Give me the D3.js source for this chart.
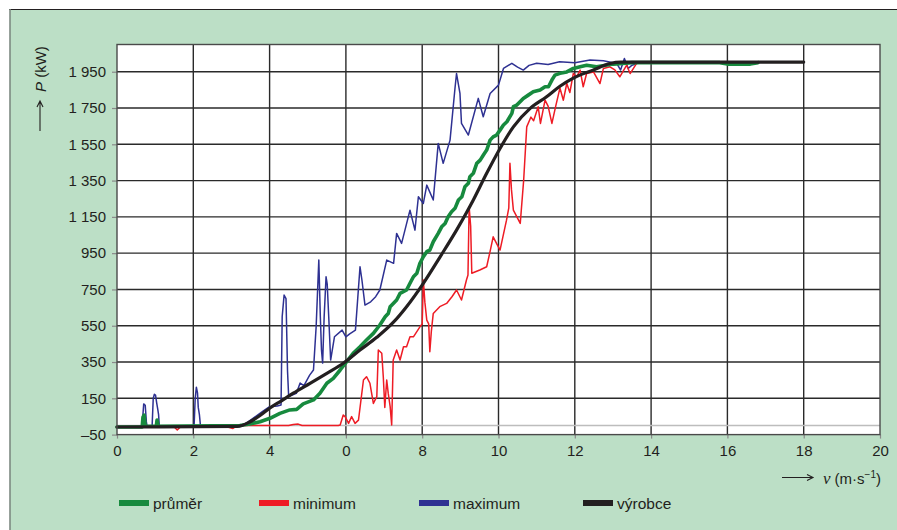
<!DOCTYPE html>
<html>
<head>
<meta charset="utf-8">
<script src="https://cdn.jsdelivr.net/npm/d3@7"></script>
<style>
  html, body { margin: 0; padding: 0; background: #ffffff; }
  svg { display: block; }
  text { font-family: "Liberation Sans", Arial, Helvetica, sans-serif; fill: #231f20; }
</style>
</head>
<body>
<svg id="chart" width="897" height="530"></svg>
<script>
// Wind speed (m/s) against power output (kW) of a 2 MW turbine

// x tick values and their printed labels
const xTicks = [0, 2, 4, 6, 8, 10, 12, 14, 16, 18, 20];
const xTickLabels = ["0", "2", "4", "0", "8", "10", "12", "14", "16", "18", "20"];

// y tick values and their printed labels
const yTicks = [-50, 150, 350, 550, 750, 950, 1150, 1350, 1550, 1750, 1950];
const yTickLabels = ["\u201350", "150", "350", "550", "750", "950", "1 150", "1 350", "1 550", "1 750", "1 950"];

// series names (legend order)
const seriesNames = ["průměr", "minimum", "maximum", "výrobce"];

// maximum measured power [speed, power]
const maxSeries = [
  [0,-8],[0.66,-8],[0.68,60],[0.7,119],[0.74,112],[0.77,20],[0.79,-6],
  [0.92,-6],[0.95,150],[0.98,172],[1.01,168],[1.04,125],[1.07,88],[1.09,60],[1.11,-6],
  [2.02,-6],[2.05,150],[2.08,211],[2.11,180],[2.13,100],[2.16,60],[2.19,-6],
  [3.2,-6],[3.4,15],[3.6,45],[3.8,75],[4.0,104],[4.2,108],[4.3,113],[4.33,600],[4.38,719],
  [4.43,700],[4.47,300],[4.5,159],[4.7,177],[4.8,234],[4.9,220],[5.05,278],[5.15,306],
  [5.22,544],[5.29,912],[5.33,600],[5.36,416],[5.39,344],[5.43,600],[5.48,820],[5.51,780],
  [5.55,600],[5.6,361],[5.7,489],[5.9,526],[6.0,489],[6.1,505],[6.25,526],[6.31,700],
  [6.37,875],[6.42,802],[6.5,664],[6.65,682],[6.78,710],[6.89,747],[7.07,912],[7.25,894],
  [7.33,1059],[7.46,1004],[7.68,1187],[7.81,1077],[7.9,1261],[8.03,1224],[8.12,1325],
  [8.29,1243],[8.42,1555],[8.55,1445],[8.73,1573],[8.86,1860],[8.9,1940],[8.99,1830],
  [9.03,1665],[9.21,1601],[9.47,1803],[9.6,1702],[9.78,1830],[10.0,1876],[10.13,1968],
  [10.35,1996],[10.5,1975],[10.65,1959],[10.8,1985],[11.0,1997],[11.3,1990],[11.6,2005],
  [12.0,2000],[12.4,2014],[12.75,2010],[13.1,1996],[13.2,1959],[13.3,2023],[13.4,1968],
  [13.5,1986],[13.7,2000],[14.5,2002],[15.5,1998],[16.0,1996],[16.5,1998]
];

// minimum measured power [speed, power]
const minSeries = [
  [0,-8],[1.5,-8],[1.58,-25],[1.66,-8],[2.9,-8],[3.04,-16],[3.15,0],[4.5,0],[4.62,6],
  [4.75,8],[4.85,0],[5.8,0],[5.85,3],[5.93,58],[5.98,49],[6.07,12],[6.15,49],[6.24,12],
  [6.33,30],[6.46,251],[6.54,269],[6.63,233],[6.72,122],[6.81,159],[6.85,416],[6.94,398],
  [6.98,269],[7.02,100],[7.07,251],[7.11,177],[7.16,104],[7.2,3],[7.24,361],[7.33,416],
  [7.42,361],[7.51,434],[7.59,434],[7.68,489],[7.77,489],[7.94,544],[8.0,560],[8.03,802],
  [8.07,680],[8.12,581],[8.17,560],[8.2,407],[8.24,520],[8.29,618],[8.46,655],[8.64,673],
  [8.78,710],[8.9,747],[9.03,692],[9.16,802],[9.2,830],[9.23,1206],[9.27,1100],[9.3,839],
  [9.51,857],[9.69,875],[9.78,960],[9.86,1040],[10.04,967],[10.21,1132],[10.27,1200],
  [10.3,1445],[10.34,1300],[10.39,1187],[10.57,1114],[10.66,1353],[10.74,1646],[10.85,1700],
  [10.92,1680],[11.04,1757],[11.1,1665],[11.22,1793],[11.3,1760],[11.4,1665],[11.5,1760],
  [11.61,1860],[11.7,1793],[11.79,1885],[11.87,1835],[11.96,1940],[12.05,1922],[12.14,1959],
  [12.22,1867],[12.31,1940],[12.49,1949],[12.66,1885],[12.75,1968],[12.92,1977],[13.05,1960],
  [13.18,1922],[13.36,1986],[13.45,1940],[13.62,1996],[13.97,1996],[14.3,2002],[14.6,1998]
];

// mean measured power [speed, power]
const meanSeries = [
  [0,-8],[0.66,-8],[0.68,45],[0.71,58],[0.74,-4],[1.03,-4],[1.05,30],[1.08,-4],[3.22,0],
  [3.49,8],[3.75,21],[4.01,40],[4.27,67],[4.53,86],[4.71,89],[4.88,119],[5.15,141],
  [5.32,178],[5.5,233],[5.67,260],[5.85,306],[6.02,352],[6.19,398],[6.37,434],[6.54,471],
  [6.72,508],[6.89,554],[7.03,600],[7.11,618],[7.16,655],[7.33,692],[7.42,728],[7.59,747],
  [7.68,784],[7.77,820],[7.86,839],[7.94,894],[8.03,930],[8.12,958],[8.2,967],[8.29,1013],
  [8.42,1059],[8.51,1095],[8.6,1114],[8.68,1151],[8.77,1178],[8.86,1197],[8.95,1243],
  [9.04,1261],[9.12,1316],[9.21,1335],[9.25,1371],[9.34,1390],[9.43,1445],[9.52,1463],
  [9.6,1490],[9.69,1518],[9.78,1573],[9.86,1591],[9.95,1601],[10.04,1628],[10.13,1656],
  [10.22,1674],[10.35,1720],[10.39,1757],[10.48,1766],[10.65,1803],[10.78,1821],
  [10.91,1839],[11.09,1849],[11.22,1867],[11.31,1867],[11.4,1904],[11.48,1931],
  [11.61,1941],[11.79,1949],[11.96,1968],[12.14,1977],[12.31,1986],[12.57,1977],
  [13.01,1992],[13.5,2000],[15.8,2000],[16.0,1992],[16.6,1992],[16.8,2000]
];

// manufacturer's power curve [speed, power]
const makerSeries = [
  [0,-8],[3.15,-5],[3.49,21],[3.75,55],[4.0,95],[4.3,135],[4.62,178],[5.06,233],[5.5,288],
  [5.93,343],[6.37,416],[6.81,486],[7.24,568],[7.59,655],[8.03,784],[8.47,930],[8.9,1077],
  [9.34,1243],[9.69,1390],[10.04,1527],[10.39,1646],[10.83,1748],[11.26,1812],[11.61,1870],
  [11.96,1915],[12.49,1960],[12.92,1995],[13.2,2003],[18.0,2003]
];

const colors = {
  mean: "#178a3e",
  min: "#ee1c25",
  max: "#2e3192",
  maker: "#231f20"
};

const svg = d3.select("#chart");
const W = 897, H = 530;
const plot = { left: 117, right: 880, top: 44.5, bottom: 434.6 };

// panel: white strip on top, green card below
svg.append("rect").attr("x", 0).attr("y", 0).attr("width", W).attr("height", H).attr("fill", "#ffffff");
svg.append("rect").attr("x", 10).attr("y", 10).attr("width", W - 10).attr("height", H - 10).attr("fill", "#bcdfc6");
svg.append("line").attr("x1", 9).attr("x2", W).attr("y1", 9.5).attr("y2", 9.5)
  .attr("stroke", "#231f20").attr("stroke-width", 1.2);
svg.append("line").attr("x1", 10).attr("x2", 10).attr("y1", 9).attr("y2", H)
  .attr("stroke", "#7d8a82").attr("stroke-width", 1.6);

const x = d3.scaleLinear().domain([0, 20]).range([plot.left, plot.right]);
const y = d3.scaleLinear().domain([-50, 2100]).range([plot.bottom, plot.top]);

// plot background
svg.append("rect")
  .attr("x", plot.left).attr("y", plot.top)
  .attr("width", plot.right - plot.left).attr("height", plot.bottom - plot.top)
  .attr("fill", "#ffffff");

// grid
const grid = svg.append("g");
grid.selectAll("line.v").data(xTicks.filter(d => d > 0 && d < 20)).join("line")
  .attr("x1", d => x(d)).attr("x2", d => x(d))
  .attr("y1", plot.top).attr("y2", plot.bottom)
  .attr("stroke", "#2a2a2a").attr("stroke-width", 1.4);
grid.selectAll("line.h").data(yTicks.filter(d => d > -50)).join("line")
  .attr("x1", plot.left).attr("x2", plot.right)
  .attr("y1", d => y(d)).attr("y2", d => y(d))
  .attr("stroke", "#2a2a2a").attr("stroke-width", 1.4);
grid.append("line")
  .attr("x1", plot.left).attr("x2", plot.right)
  .attr("y1", y(0)).attr("y2", y(0))
  .attr("stroke", "#bdbdbd").attr("stroke-width", 1.6);

// axes
const yAxis = d3.axisLeft(y).tickValues(yTicks)
  .tickFormat((d, i) => yTickLabels[i]).tickSize(5).tickPadding(6);
const gy = svg.append("g").attr("transform", `translate(${plot.left},0)`).call(yAxis);
gy.select(".domain").remove();
gy.selectAll(".tick line").attr("stroke", "#8a8a8a").attr("stroke-width", 1.2);
gy.selectAll(".tick text").attr("font-size", 15).attr("fill", "#231f20")
  .attr("font-family", "Liberation Sans, Arial, sans-serif");

const xAxis = d3.axisBottom(x).tickValues(xTicks)
  .tickFormat((d, i) => xTickLabels[i]).tickSize(4).tickPadding(7);
const gx = svg.append("g").attr("transform", `translate(0,${plot.bottom})`).call(xAxis);
gx.select(".domain").remove();
gx.selectAll(".tick line").attr("stroke", "#8a8a8a").attr("stroke-width", 1.2);
gx.selectAll(".tick text").attr("font-size", 15).attr("fill", "#231f20")
  .attr("font-family", "Liberation Sans, Arial, sans-serif");

// series lines
const line = d3.line().x(d => x(d[0])).y(d => y(d[1]));
const smooth = d3.line().x(d => x(d[0])).y(d => y(d[1])).curve(d3.curveMonotoneX);
const lines = svg.append("g").attr("fill", "none").attr("stroke-linejoin", "round").attr("stroke-linecap", "round");
lines.append("path").datum(maxSeries).attr("d", line)
  .attr("stroke", colors.max).attr("stroke-width", 1.5);
lines.append("path").datum(minSeries).attr("d", line)
  .attr("stroke", colors.min).attr("stroke-width", 1.5);
lines.append("path").datum(meanSeries).attr("d", line)
  .attr("stroke", colors.mean).attr("stroke-width", 3.6);
lines.append("path").datum(makerSeries).attr("d", smooth)
  .attr("stroke", colors.maker).attr("stroke-width", 3.2);

// plot frame
svg.append("rect")
  .attr("x", plot.left).attr("y", plot.top)
  .attr("width", plot.right - plot.left).attr("height", plot.bottom - plot.top)
  .attr("fill", "none").attr("stroke", "#4a4a4a").attr("stroke-width", 1.4);

// arrow helper (drawn pointing right from (0,0) with given length)
function arrow(g, len) {
  g.append("path")
    .attr("d", `M0,0H${len}M${len - 6},-3L${len},0L${len - 6},3`)
    .attr("fill", "none").attr("stroke", "#231f20").attr("stroke-width", 1.1);
}

// y axis title: arrow then "P (kW)", reading upward
const yt = svg.append("g").attr("transform", "translate(40,131) rotate(-90)");
arrow(yt, 30);
const ytText = yt.append("text").attr("x", 39).attr("y", 5.5).attr("font-size", 15);
ytText.append("tspan").attr("font-style", "italic").text("P");
ytText.append("tspan").text(" (kW)");

// x axis title: arrow then "ν (m·s⁻¹)"
const xt = svg.append("g").attr("transform", "translate(782,477.5)");
arrow(xt, 31);
const xtText = svg.append("text").attr("x", 881).attr("y", 483.5).attr("text-anchor", "end").attr("font-size", 15);
xtText.append("tspan").attr("font-family", "Liberation Serif, Times New Roman, serif")
  .attr("font-style", "italic").attr("font-size", 17).text("ν");
xtText.append("tspan").text(" (m·s");
xtText.append("tspan").attr("font-size", 10).attr("dy", -6).text("\u22121");
xtText.append("tspan").attr("dy", 6).text(")");

// legend
const legendItems = [
  { name: seriesNames[0], color: colors.mean, x: 119 },
  { name: seriesNames[1], color: colors.min, x: 259 },
  { name: seriesNames[2], color: colors.max, x: 419 },
  { name: seriesNames[3], color: colors.maker, x: 583 }
];
const lg = svg.append("g").selectAll("g").data(legendItems).join("g")
  .attr("transform", d => `translate(${d.x},500)`);
lg.append("rect").attr("width", 30).attr("height", 6).attr("fill", d => d.color);
lg.append("text").attr("x", 34).attr("y", 8.5).attr("font-size", 15.5).text(d => d.name);
</script>
</body>
</html>
